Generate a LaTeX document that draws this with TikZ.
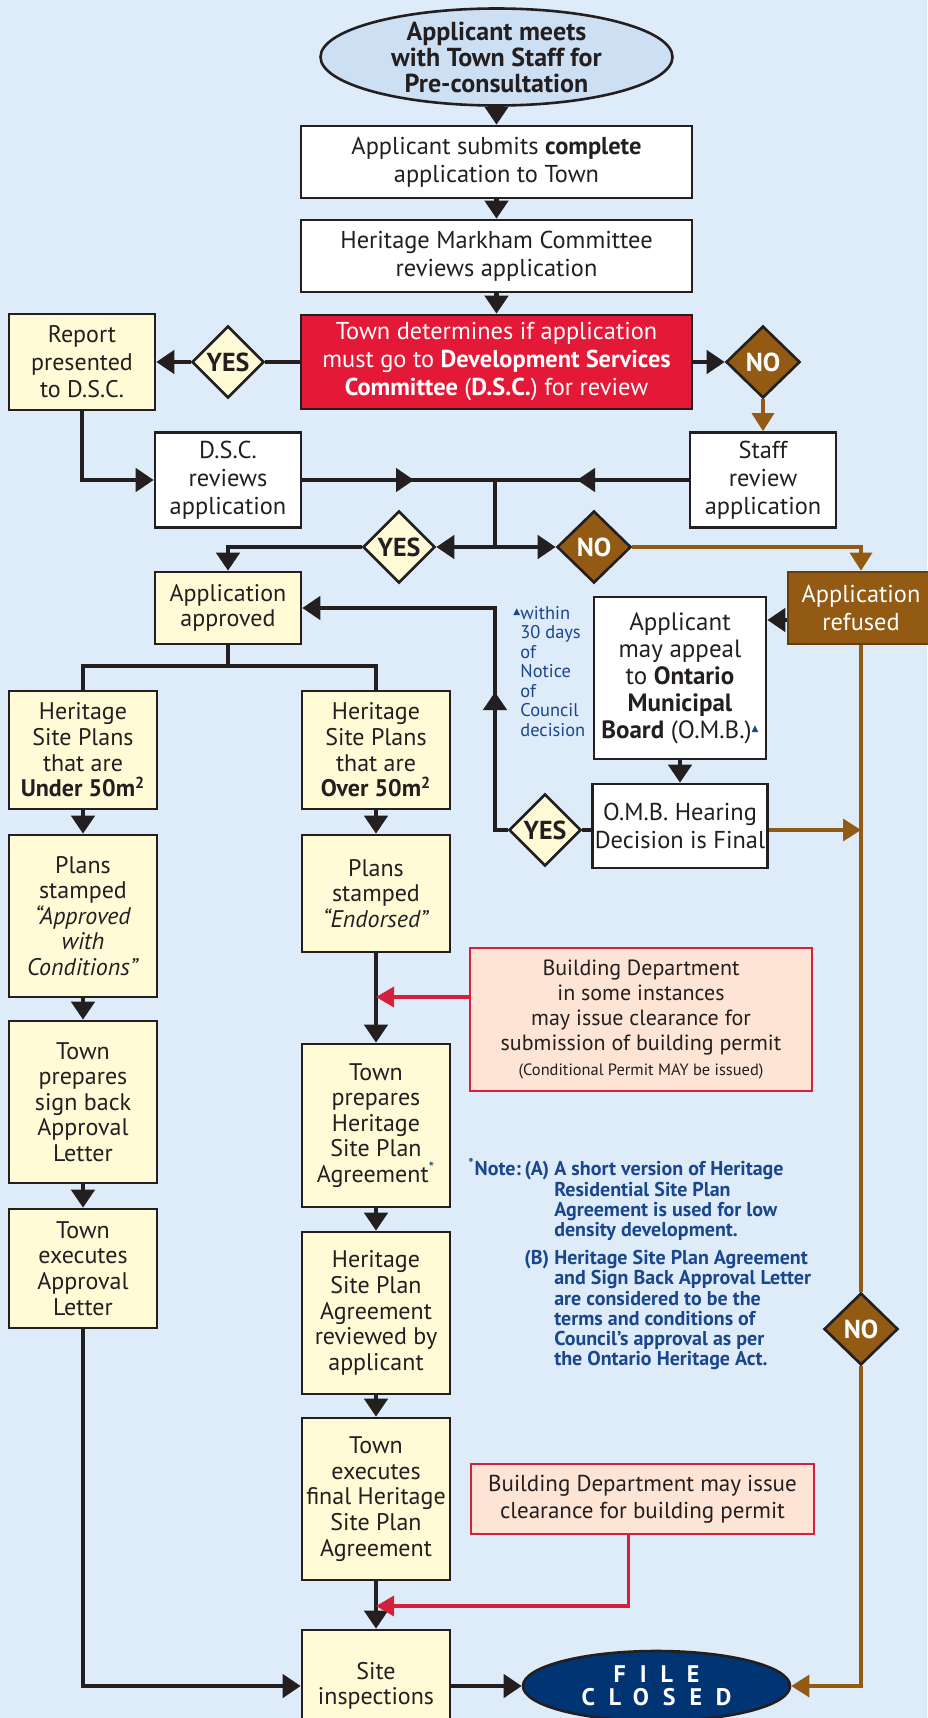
\documentclass[tikz,border=0pt]{standalone}
\usepackage{fontspec}
\setmainfont{PT Sans}
\newfontfamily\trifont{DejaVu Sans}
\newfontfamily\spacedfont[LetterSpace=58]{PT Sans}
\usetikzlibrary{shapes.geometric, arrows.meta}

\definecolor{bgblue}{RGB}{222,235,248}
\definecolor{topblue}{RGB}{205,223,242}
\definecolor{cream}{RGB}{255,251,214}
\definecolor{decred}{RGB}{227,25,55}
\definecolor{ombrown}{RGB}{146,90,18}
\definecolor{fileblue}{RGB}{0,52,115}
\definecolor{noteblue}{RGB}{25,70,140}
\definecolor{peach}{RGB}{253,228,212}
\definecolor{linered}{RGB}{212,32,60}
\definecolor{ink}{RGB}{35,31,32}

\newcommand{\tri}{\raisebox{0.55ex}{\trifont\fontsize{4.5}{4.5}\selectfont ▲}}

\begin{document}
\begin{tikzpicture}[x=0.5pt, y=-0.5pt,
        box/.style={rectangle, draw=ink, line width=1.3pt, inner sep=1pt, align=center, text=ink, font={\fontsize{12.2}{14}\selectfont}},
        wbox/.style={box, fill=white},
        widebox/.style={wbox, minimum width=195.5pt, minimum height=36pt},
        redbox/.style={box, fill=decred, text=white, minimum width=195.5pt, minimum height=47pt},
        ybox/.style={box, fill=cream, minimum width=74pt, font={\fontsize{12}{12.8}\selectfont}},
        refbox/.style={box, fill=ombrown, draw=ombrown!70!black, text=white, minimum width=73pt, minimum height=36pt},
        peachbox/.style={box, fill=peach, draw=linered, font={\fontsize{11}{12.5}\selectfont}},
        yesd/.style={diamond, draw=ink, line width=1.3pt, fill=cream, minimum width=36pt, minimum height=36pt, inner sep=0pt, text=ink, font={\bfseries\fontsize{13}{13}\selectfont}},
        nod/.style={yesd, fill=ombrown, text=white, minimum width=37pt},
        topell/.style={ellipse, draw=ink, line width=1.3pt, fill=topblue, minimum width=176pt, minimum height=48.5pt, inner sep=0pt},
        toptext/.style={align=center, text=ink, font={\bfseries\fontsize{13}{13}\selectfont}},
        fcell/.style={ellipse, draw=ink, line width=1.3pt, fill=fileblue, minimum width=133.5pt, minimum height=35pt, inner sep=0pt},
        fctext/.style={align=center, text=white, font={\spacedfont\bfseries\fontsize{12}{11.7}\selectfont}},
        conn/.style={draw=ink, line width=2.2pt},
        arr/.style={conn, -{Triangle[width=11.5pt, length=9pt]}},
        brn/.style={draw=ombrown, line width=1.6pt},
        brnarr/.style={brn, -{Triangle[width=11pt, length=9pt]}},
        redarr/.style={draw=linered, line width=1.8pt, -{Triangle[width=10pt, length=9pt]}}]

        \useasboundingbox (0,0) rectangle (927,1718);
        \fill[bgblue] (0,0) rectangle (927,1718);

        % top part
        \node[topell] (pre) at (496.5,57) {};
        \node[toptext] (preT) at (pre) {Applicant meets\\with Town Staff for\\Pre-consultation};
        \node[widebox] (sub) at (496.5,162) {Applicant submits \textbf{complete}\\application to Town};
        \node[widebox] (hmc) at (496.5,256) {Heritage Markham Committee\\reviews application};
        \node[redbox] (dec) at (496.5,362) {Town determines if application\\must go to \textbf{Development Services}\\\textbf{Committee} (\textbf{D.S.C.}) for review};
        \node[ybox, minimum width=73pt, minimum height=48pt, font={\fontsize{12}{13.8}\selectfont}] (rep) at (82,362) {Report\\presented\\to D.S.C.};
        \node[yesd] (Y1) at (228,362) {YES};
        \node[nod] (N1) at (763,362) {NO};

        \node[wbox, minimum width=73pt, minimum height=47.5pt] (dsc) at (228,480) {D.S.C.\\reviews\\application};
        \node[wbox, minimum width=73pt, minimum height=47.5pt] (stf) at (763,480) {Staff\\review\\application};
        \coordinate (J1) at (495,480);
        \coordinate (J2) at (495,547);
        \coordinate (A1) at (414,480);
        \coordinate (A2) at (577,480);
        \node[yesd] (Y2) at (399,547) {YES};
        \node[nod] (N2) at (594,547) {NO};

        \node[ybox, minimum width=73pt, minimum height=36pt] (app) at (228,608) {Application\\approved};
        \node[refbox] (ref) at (861,608) {Application\\refused};
        \node[wbox, minimum width=86pt, minimum height=81pt, font={\fontsize{12.5}{13.5}\selectfont}] (apl) at (680,678)
            {Applicant\\may appeal\\to \textbf{Ontario}\\\textbf{Municipal}\\\textbf{Board} (O.M.B.)\textcolor{noteblue}{\tri}};
        \node[anchor=north west, align=left, inner sep=0pt, text=noteblue, font={\fontsize{9.2}{9.75}\selectfont}] (wtn) at (520,606)
            {\llap{\tri}within\\30 days\\of\\Notice\\of\\Council\\decision};
        \node[wbox, minimum width=87.5pt, minimum height=42pt] (omb) at (680,826) {O.M.B. Hearing\\Decision is Final};
        \node[yesd] (Y3) at (545,830) {YES};
        \coordinate (R) at (495,608);
        \coordinate (U) at (495,692);

        % the two columns
        \coordinate (S) at (228,666);
        \node[ybox, minimum height=59pt] (und) at (83,750) {Heritage\\Site Plans\\that are\\\textbf{Under 50m\textsuperscript{2}}};
        \node[ybox, minimum height=59pt] (ovr) at (376,750) {Heritage\\Site Plans\\that are\\\textbf{Over 50m\textsuperscript{2}}};
        \node[ybox, minimum height=81pt] (L2) at (83,916) {Plans\\stamped\\\textit{“Approved}\\\textit{with}\\\textit{Conditions”}};
        \node[ybox, minimum height=81pt] (L3) at (83,1102) {Town\\prepares\\sign back\\Approval\\Letter};
        \node[ybox, minimum height=59.5pt] (L4) at (83,1268.5) {Town\\executes\\Approval\\Letter};
        \node[ybox, minimum height=58.5pt] (M2) at (376,893.5) {Plans\\stamped\\\textit{“Endorsed”}};
        \node[ybox, minimum height=81.5pt] (M3) at (376,1125.5) {Town\\prepares\\Heritage\\Site Plan\\Agreement\textsuperscript{\textcolor{noteblue}{*}}};
        \node[ybox, minimum height=81pt] (M4) at (376,1313) {Heritage\\Site Plan\\Agreement\\reviewed by\\applicant};
        \node[ybox, minimum height=81pt] (M5) at (376,1499) {Town\\executes\\final Heritage\\Site Plan\\Agreement};
        \node[ybox, minimum height=56pt] (site) at (376,1686) {Site\\inspections};

        \node[peachbox, minimum width=171pt, minimum height=71.5pt] (bd1) at (641,1019.5)
            {Building Department\\in some instances\\may issue clearance for\\submission of building permit\\{\fontsize{8.2}{10}\selectfont (Conditional Permit MAY be issued)}};
        \node[peachbox, minimum width=171.5pt, minimum height=35pt, font={\fontsize{11.5}{13.5}\selectfont}] (bd2) at (642.5,1499)
            {Building Department may issue\\clearance for building permit};
        \coordinate (RJ) at (376,1606);

        \node[anchor=north west, inner sep=0pt, text=noteblue, font={\bfseries\fontsize{10}{9.9}\selectfont}] (nt) at (468,1158)
            {\begin{tabular}{@{}l@{\,}r@{\ }l@{}}
             \textsuperscript{*}Note: & (A) & A short version of Heritage\\
              & & Residential Site Plan\\
              & & Agreement is used for low\\
              & & density development.\\[4pt]
              & (B) & Heritage Site Plan Agreement\\
              & & and Sign Back Approval Letter\\
              & & are considered to be the\\
              & & terms and conditions of\\
              & & Council’s approval as per\\
              & & the Ontario Heritage Act.
             \end{tabular}};

        \node[nod] (N4) at (861,1329) {NO};
        \node[fcell] (fc) at (656.5,1686) {};
        \node[fctext] (fcT) at (fc) {FILE\\CLOSED};

        % connectors
        \draw[arr] (pre.south) -- (sub.north);
        \draw[arr] (sub.south) -- (hmc.north);
        \draw[arr] (hmc.south) -- (dec.north);
        \draw[conn] (dec.west) -- (Y1.east);
        \draw[arr] (Y1.west) -- (rep.east);
        \draw[arr] (dec.east) -- (N1.west);
        \draw[brnarr] (N1.south) -- (stf.north);
        \draw[arr] (rep.south) |- (dsc.west);
        \draw[conn] (dsc.east) -- (J1);
        \draw[arr] (dsc.east) -- (A1);
        \draw[conn] (stf.west) -- (J1);
        \draw[arr] (stf.west) -- (A2);
        \draw[conn] (J1) -- (J2);
        \draw[arr] (J2) -- (Y2.east);
        \draw[arr] (J2) -- (N2.west);
        \draw[arr] (Y2.west) -| (app.north);
        \draw[brnarr] (N2.east) -| (ref.north);
        \draw[arr] ([yshift=-6pt]ref.west) -- ([yshift=-6pt]ref.west -| apl.east);
        \draw[arr] (apl.south) -- (omb.north);
        \draw[conn] (omb.west |- Y3) -- (Y3.east);
        \draw[arr] (Y3.west) -| (R) -- (app.east);
        \draw[arr] (Y3.west -| R) -- (U);
        \draw[brnarr] (omb.east |- Y3) -- (Y3 -| ref);
        \draw[brn] (ref.south) -- (N4.north);
        \draw[brnarr] (N4.south) |- (fc.east);

        \draw[conn] (app.south) -- (S);
        \draw[conn] (und.north) |- (S) -| (ovr.north);
        \draw[arr] (und.south) -- (L2.north);
        \draw[arr] (L2.south) -- (L3.north);
        \draw[arr] (L3.south) -- (L4.north);
        \draw[arr] (L4.south) |- (site.west);
        \draw[arr] (ovr.south) -- (M2.north);
        \draw[arr] (M2.south) -- (M3.north);
        \draw[arr] (M3.south) -- (M4.north);
        \draw[arr] (M4.south) -- (M5.north);
        \draw[arr] (M5.south) -- (site.north);
        \draw[redarr] ([yshift=11.25pt]bd1.west) -- ([yshift=11.25pt]bd1.west -| M2.south);
        \draw[redarr] ([xshift=-7pt]bd2.south) |- (RJ);
        \draw[arr] (site.east) -- (fc.west);
    \end{tikzpicture}
\end{document}
